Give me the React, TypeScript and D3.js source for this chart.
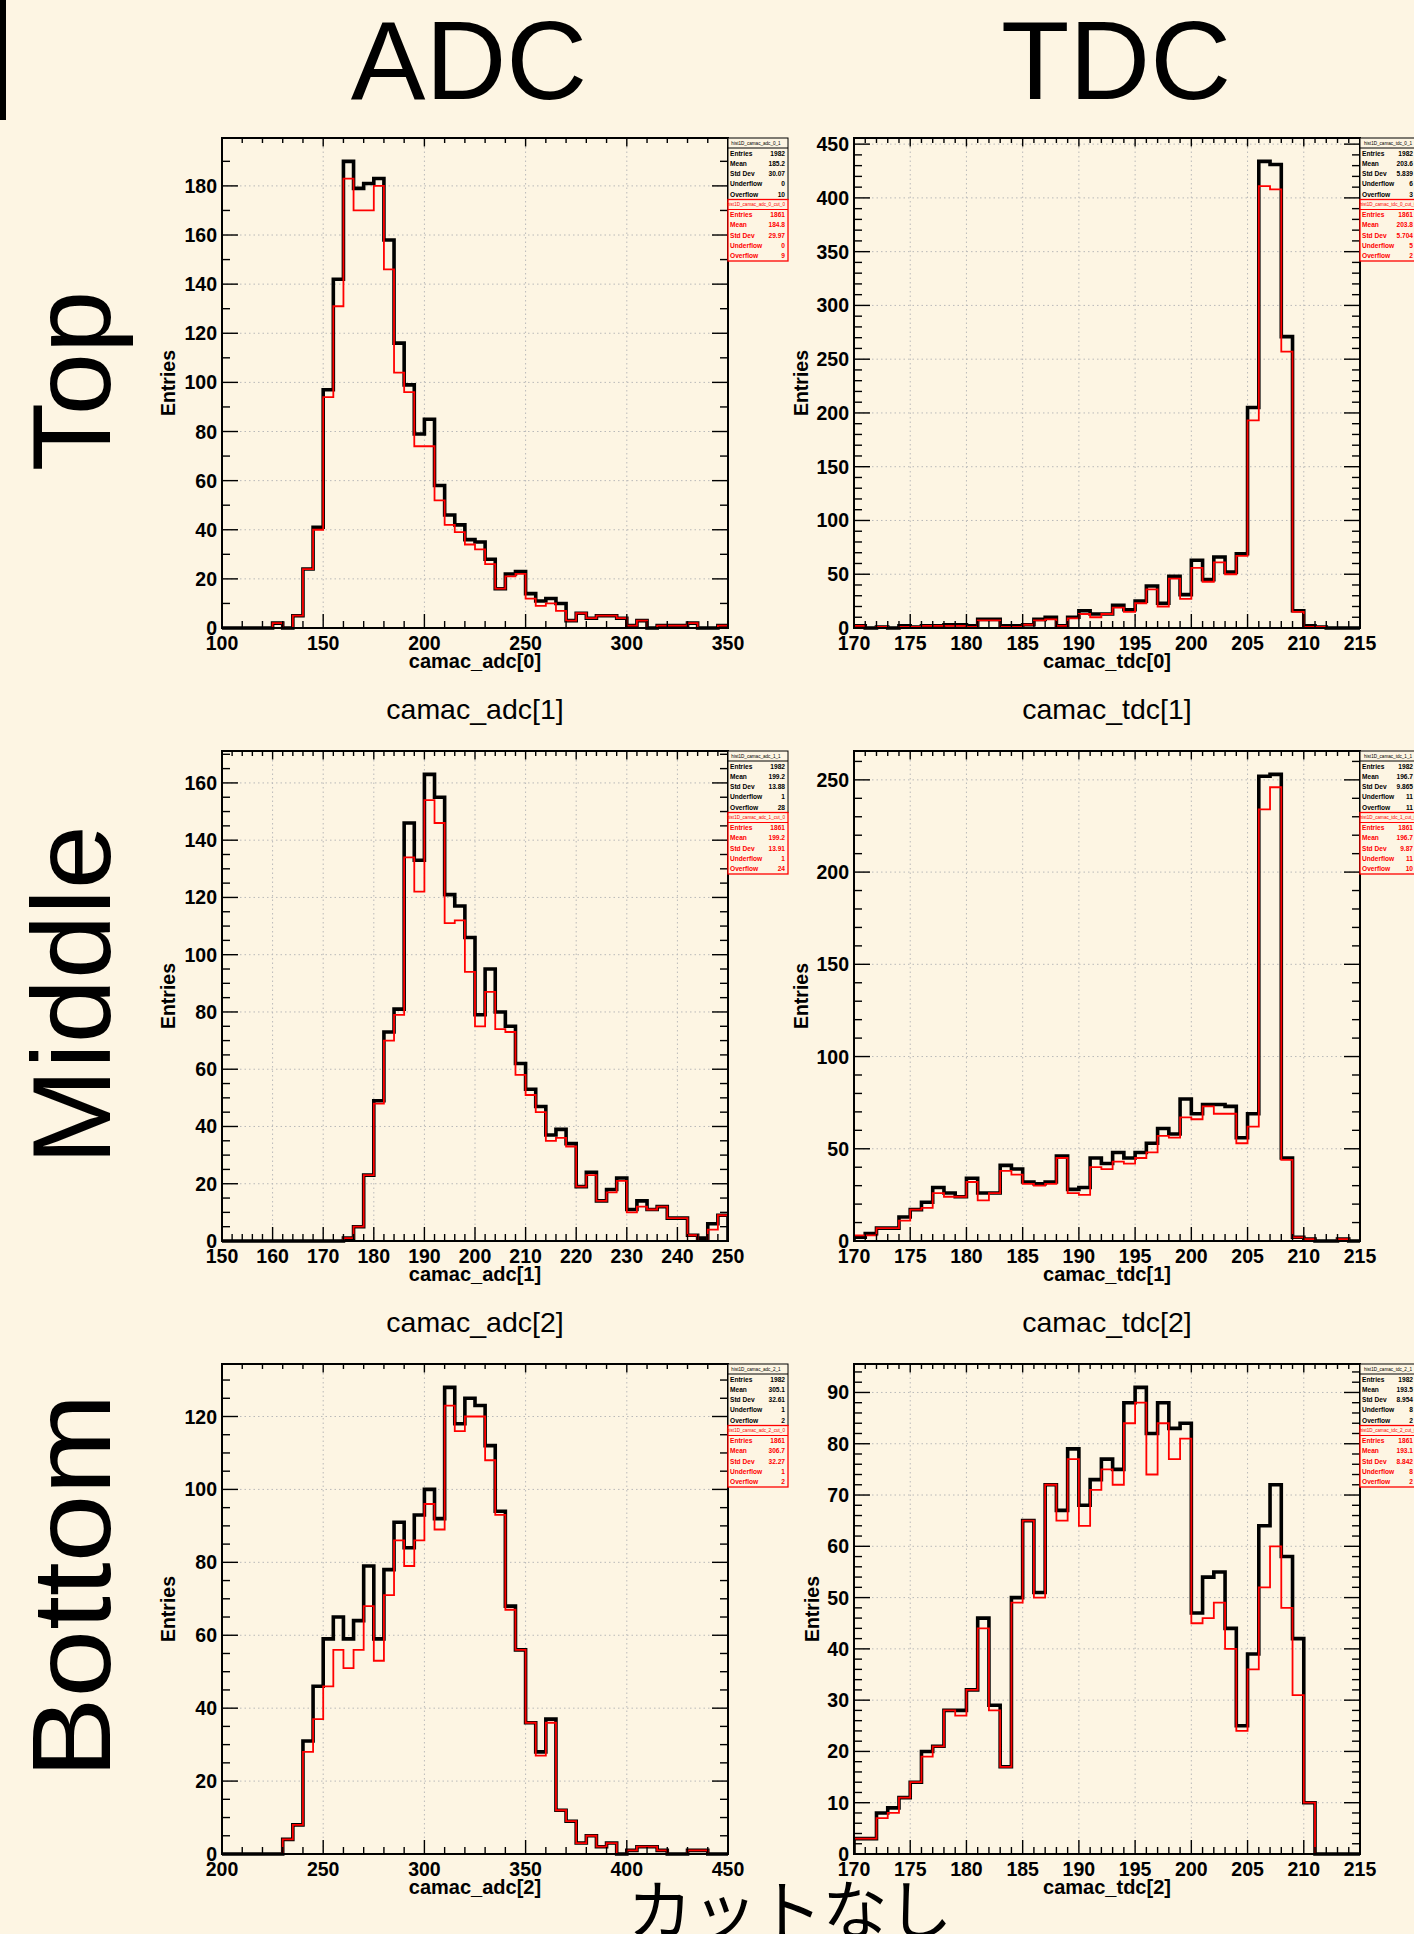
import React from 'react';
import * as d3 from 'd3';

const W = 1414;
const H = 1934;
const BG = '#fdf5e3';
const FONT = "'Liberation Sans', Arial, Helvetica, sans-serif";

// ---------- data (bin contents) ----------
const adc0Range = [100, 350];
const adc0Black = [0,0,0,0,0,2,0,5,24,41,97,142,190,179,181,183,158,116,99,79,85,58,46,42,36,35,28,16,22,23,14,11,12,10,3,6,4,5,5,4,1,3,0,1,1,1,2,0,0,1];
const adc0Red   = [0,0,0,0,0,2,0,5,24,40,94,131,183,170,170,180,146,104,96,74,74,52,42,39,34,32,26,16,21,22,12,9,10,7,3,6,4,5,5,4,1,3,0,1,1,1,2,0,0,1];

const tdc0Range = [170, 215];
const tdc0Black = [2,0,1,0,2,1,2,2,3,3,2,8,8,2,2,3,8,10,2,10,16,13,13,21,17,25,39,23,48,31,63,45,66,52,69,205,434,431,271,16,2,1,0,0,0];
const tdc0Red   = [2,0,1,0,1,1,2,2,2,2,1,7,7,1,1,3,7,8,2,9,13,10,13,19,15,23,36,20,46,27,56,43,61,50,67,193,411,408,257,15,1,1,0,0,0];

const adc1Range = [150, 250];
const adc1Black = [0,0,0,0,0,0,0,0,0,0,0,0,1,5,23,49,73,81,146,133,163,155,121,117,106,79,95,80,75,62,53,47,37,39,34,19,24,14,18,22,11,14,11,12,8,8,2,1,6,9];
const adc1Red   = [0,0,0,0,0,0,0,0,0,0,0,0,1,5,23,48,70,79,134,122,154,146,111,112,94,75,87,74,73,58,51,45,35,36,33,19,23,14,17,21,10,12,11,12,8,8,2,0,4,9];

const tdc1Range = [170, 215];
const tdc1Black = [2,4,7,7,13,17,21,29,26,24,34,26,26,41,39,32,31,32,46,28,29,45,42,48,45,48,53,61,58,77,69,74,74,73,56,69,252,253,45,2,1,0,0,1,0];
const tdc1Red   = [3,3,7,7,11,17,18,26,24,24,32,22,26,38,36,31,30,31,45,26,25,40,39,43,42,45,48,57,56,67,66,73,69,69,53,62,234,246,44,2,1,0,0,1,0];

const adc2Range = [200, 450];
const adc2Black = [0,0,0,0,0,0,4,8,31,46,59,65,59,64,79,59,78,91,84,93,100,92,128,118,125,123,112,94,68,56,36,28,37,12,9,3,5,2,3,0,1,2,2,1,0,0,1,1,0,0];
const adc2Red   = [0,0,0,0,0,0,4,8,28,37,46,56,51,56,68,53,71,86,79,86,96,89,123,116,120,120,108,93,67,56,36,27,36,12,9,3,5,2,3,0,1,2,2,1,0,0,1,1,0,0];

const tdc2Range = [170, 215];
const tdc2Black = [3,3,8,9,11,14,20,21,28,28,32,46,29,17,50,65,51,72,67,79,68,73,77,75,88,91,82,88,83,84,47,54,55,44,25,39,64,72,58,42,10,0,0,0,0];
const tdc2Red   = [3,3,7,8,11,14,19,21,28,27,32,44,28,17,49,65,50,72,65,77,64,71,75,72,84,88,74,84,77,81,45,46,49,40,24,36,52,60,48,31,10,0,0,0,0];

// ---------- stats boxes ----------
const statLabels = ['Entries', 'Mean', 'Std Dev', 'Underflow', 'Overflow'];
const adc0Stats = ['1982', '185.2', '30.07', '0', '10'];
const adc0CutStats = ['1861', '184.8', '29.97', '0', '9'];
const tdc0Stats = ['1982', '203.6', '5.839', '6', '3'];
const tdc0CutStats = ['1861', '203.8', '5.704', '5', '2'];
const adc1Stats = ['1982', '199.2', '13.88', '1', '28'];
const adc1CutStats = ['1861', '199.2', '13.91', '1', '24'];
const tdc1Stats = ['1982', '196.7', '9.865', '11', '11'];
const tdc1CutStats = ['1861', '196.7', '9.87', '11', '10'];
const adc2Stats = ['1982', '305.1', '32.61', '1', '2'];
const adc2CutStats = ['1861', '306.7', '32.27', '1', '2'];
const tdc2Stats = ['1982', '193.5', '8.954', '8', '2'];
const tdc2CutStats = ['1861', '193.1', '8.842', '8', '2'];

// ---------- axis ticks ----------
const xTickSteps = { adc0: [50, 10], tdc: [5, 1], adc1: [10, 2], adc2: [50, 10] };
const yTickSteps = { adc0: [20, 10], tdc0: [50, 10], adc1: [20, 5], tdc1: [50, 10], adc2: [20, 5], tdc2: [10, 2] };

const colX = [[222, 728], [854, 1360]];
const rowY = [[138, 628], [751, 1241], [1364, 1854]];

const panels = [
  { key: 'adc0', col: 0, row: 0, range: adc0Range, black: adc0Black, red: adc0Red, xt: xTickSteps.adc0, yt: yTickSteps.adc0, xlabel: 'camac_adc[0]', title: null, name: 'hist1D_camac_adc_0_1', cutName: 'hist1D_camac_adc_0_cut_0', stats: adc0Stats, cutStats: adc0CutStats, entriesX: 175 },
  { key: 'tdc0', col: 1, row: 0, range: tdc0Range, black: tdc0Black, red: tdc0Red, xt: xTickSteps.tdc, yt: yTickSteps.tdc0, xlabel: 'camac_tdc[0]', title: null, name: 'hist1D_camac_tdc_0_1', cutName: 'hist1D_camac_tdc_0_cut_0', stats: tdc0Stats, cutStats: tdc0CutStats, entriesX: 808 },
  { key: 'adc1', col: 0, row: 1, range: adc1Range, black: adc1Black, red: adc1Red, xt: xTickSteps.adc1, yt: yTickSteps.adc1, xlabel: 'camac_adc[1]', title: 'camac_adc[1]', name: 'hist1D_camac_adc_1_1', cutName: 'hist1D_camac_adc_1_cut_0', stats: adc1Stats, cutStats: adc1CutStats, entriesX: 175 },
  { key: 'tdc1', col: 1, row: 1, range: tdc1Range, black: tdc1Black, red: tdc1Red, xt: xTickSteps.tdc, yt: yTickSteps.tdc1, xlabel: 'camac_tdc[1]', title: 'camac_tdc[1]', name: 'hist1D_camac_tdc_1_1', cutName: 'hist1D_camac_tdc_1_cut_0', stats: tdc1Stats, cutStats: tdc1CutStats, entriesX: 808 },
  { key: 'adc2', col: 0, row: 2, range: adc2Range, black: adc2Black, red: adc2Red, xt: xTickSteps.adc2, yt: yTickSteps.adc2, xlabel: 'camac_adc[2]', title: 'camac_adc[2]', name: 'hist1D_camac_adc_2_1', cutName: 'hist1D_camac_adc_2_cut_0', stats: adc2Stats, cutStats: adc2CutStats, entriesX: 175 },
  { key: 'tdc2', col: 1, row: 2, range: tdc2Range, black: tdc2Black, red: tdc2Red, xt: xTickSteps.tdc, yt: yTickSteps.tdc2, xlabel: 'camac_tdc[2]', title: 'camac_tdc[2]', name: 'hist1D_camac_tdc_2_1', cutName: 'hist1D_camac_tdc_2_cut_0', stats: tdc2Stats, cutStats: tdc2CutStats, entriesX: 819 },
];

function stepPoints(range: number[], vals: number[]) {
  const bw = (range[1] - range[0]) / vals.length;
  const pts: [number, number][] = [[range[0], 0]];
  vals.forEach((v, i) => {
    pts.push([range[0] + i * bw, v]);
    pts.push([range[0] + (i + 1) * bw, v]);
  });
  pts.push([range[1], 0]);
  return pts;
}

function StatsBox({ x, y, w, name, values, color, valueRight }: any) {
  const h = 61.5;
  const head = 10;
  const rowH = (h - head) / 5;
  return (
    <g>
      <rect x={x} y={y} width={w} height={h} fill={BG} stroke={color} strokeWidth={color === 'black' ? 1 : 1.3} />
      <line x1={x} x2={x + w} y1={y + head} y2={y + head} stroke={color} strokeWidth={1} />
      <text x={x + w / 2 - 2} y={y + head / 2 + 1.6} textAnchor="middle" fontSize={4.6} fill={color} fontFamily={FONT}>{name}</text>
      {statLabels.map((l, i) => (
        <g key={l}>
          <text x={x + 2} y={y + head + rowH * (i + 0.5) + 2.4} fontSize={6.6} fontWeight="bold" fill={color} fontFamily={FONT}>{l}</text>
          <text x={valueRight} y={y + head + rowH * (i + 0.5) + 2.4} textAnchor="end" fontSize={6.6} fontWeight="bold" fill={color} fontFamily={FONT}>{values[i]}</text>
        </g>
      ))}
    </g>
  );
}

function Panel({ p }: any) {
  const [x0, x1] = colX[p.col];
  const [y0, y1] = rowY[p.row];
  const ymax = (d3.max(p.black) as number) * 1.05;
  const x = d3.scaleLinear().domain(p.range).range([x0, x1]);
  const y = d3.scaleLinear().domain([0, ymax]).range([y1, y0]);
  const line = d3.line<[number, number]>().x(d => x(d[0])).y(d => y(d[1]));
  const [xMaj, xMin] = p.xt;
  const [yMaj, yMin] = p.yt;
  const xMajors = d3.range(p.range[0], p.range[1] + xMaj / 2, xMaj);
  const xMinors = d3.range(p.range[0], p.range[1] + xMin / 2, xMin);
  const yMajors = d3.range(0, ymax + 1e-9, yMaj);
  const yMinors = d3.range(0, ymax + 1e-9, yMin);
  const clipId = `clip-${p.key}`;
  const boxX = x1;
  const valueRight = p.col === 0 ? x1 + 57 : x1 + 53;
  const tickC = '#000';
  return (
    <g>
      <defs>
        <clipPath id={clipId}>
          <rect x={x0} y={y0} width={x1 - x0} height={y1 - y0 + 3} />
        </clipPath>
      </defs>
      {/* grid */}
      {xMajors.filter(v => v > p.range[0] && v < p.range[1]).map(v => (
        <line key={'gx' + v} x1={x(v)} x2={x(v)} y1={y0} y2={y1} stroke="#b9b9b9" strokeWidth={1} strokeDasharray="1.5,3" />
      ))}
      {yMajors.filter(v => v > 0).map(v => (
        <line key={'gy' + v} x1={x0} x2={x1} y1={y(v)} y2={y(v)} stroke="#b9b9b9" strokeWidth={1} strokeDasharray="1.5,3" />
      ))}
      {/* histograms */}
      <g clipPath={`url(#${clipId})`}>
        <path d={line(stepPoints(p.range, p.black)) || ''} fill="none" stroke="#000" strokeWidth={3.6} strokeLinejoin="miter" />
        <path d={line(stepPoints(p.range, p.red)) || ''} fill="none" stroke="#ff0000" strokeWidth={1.8} strokeLinejoin="miter" />
      </g>
      {/* ticks */}
      {xMinors.map(v => {
        const maj = xMajors.some(m => Math.abs(m - v) < 1e-9);
        return (
          <g key={'xt' + v}>
            <line x1={x(v)} x2={x(v)} y1={y1} y2={y1 - (maj ? 14 : 7)} stroke={tickC} strokeWidth={1.4} />
            <line x1={x(v)} x2={x(v)} y1={y0} y2={y0 + (maj ? 8.5 : 5)} stroke={tickC} strokeWidth={1.4} />
          </g>
        );
      })}
      {yMinors.map(v => {
        const maj = yMajors.some(m => Math.abs(m - v) < 1e-9);
        return (
          <g key={'yt' + v}>
            <line x1={x0} x2={x0 + (maj ? 16 : 8)} y1={y(v)} y2={y(v)} stroke={tickC} strokeWidth={1.4} />
            <line x1={x1} x2={x1 - (maj ? 16 : 8)} y1={y(v)} y2={y(v)} stroke={tickC} strokeWidth={1.4} />
          </g>
        );
      })}
      {/* frame */}
      <rect x={x0} y={y0} width={x1 - x0} height={y1 - y0} fill="none" stroke="#000" strokeWidth={2} />
      {/* tick labels */}
      {xMajors.map(v => (
        <text key={'xl' + v} x={x(v)} y={y1 + 21.5} textAnchor="middle" fontSize={19.5} fontWeight="bold" fontFamily={FONT}>{v}</text>
      ))}
      {yMajors.map(v => (
        <text key={'yl' + v} x={x0 - 5} y={y(v) + 7} textAnchor="end" fontSize={19.5} fontWeight="bold" fontFamily={FONT}>{v}</text>
      ))}
      {/* axis titles */}
      <text x={(x0 + x1) / 2} y={y1 + 40} textAnchor="middle" fontSize={20} fontWeight="bold" fontFamily={FONT}>{p.xlabel}</text>
      <text transform={`translate(${p.entriesX},${(y0 + y1) / 2}) rotate(-90)`} textAnchor="middle" fontSize={19.5} fontWeight="bold" fontFamily={FONT}>Entries</text>
      {p.title && (
        <text x={(x0 + x1) / 2} y={y0 - 32} textAnchor="middle" fontSize={28.5} fontFamily={FONT}>{p.title}</text>
      )}
      {/* stats */}
      <StatsBox x={boxX} y={y0} w={60} name={p.name} values={p.stats} color="black" valueRight={valueRight} />
      <StatsBox x={boxX} y={y0 + 61.5} w={60} name={p.cutName} values={p.cutStats} color="#ff0000" valueRight={valueRight} />
    </g>
  );
}

const colHeadings = [
  { text: 'ADC', x: 469 },
  { text: 'TDC', x: 1116 },
];
const rowHeadings = [
  { text: 'Top', y: 381, len: 0 },
  { text: 'Middle', y: 995, len: 340 },
  { text: 'Bottom', y: 1586, len: 385 },
];

export default function App() {
  return (
    <svg width={W} height={H} viewBox={`0 0 ${W} ${H}`} style={{ position: 'absolute', left: 0, top: 0, display: 'block' }} xmlns="http://www.w3.org/2000/svg">
      <rect x={0} y={0} width={W} height={H} fill={BG} />
      <rect x={0} y={0} width={6} height={120} fill="#000" />
      {colHeadings.map(h => (
        <text key={h.text} x={h.x} y={99} textAnchor="middle" fontSize={112} fontFamily={FONT}>{h.text}</text>
      ))}
      {rowHeadings.map(h => (
        <text key={h.text} transform={`translate(110,${h.y}) rotate(-90)`} textAnchor="middle" fontSize={112} fontFamily={FONT}
          {...(h.len ? { textLength: h.len, lengthAdjust: 'spacingAndGlyphs' } : {})}>{h.text}</text>
      ))}
      {panels.map(p => <Panel key={p.key} p={p} />)}
      <text x={790} y={1934} textAnchor="middle" fontSize={65} fontFamily="'Noto Sans CJK JP', sans-serif">カットなし</text>
    </svg>
  );
}
